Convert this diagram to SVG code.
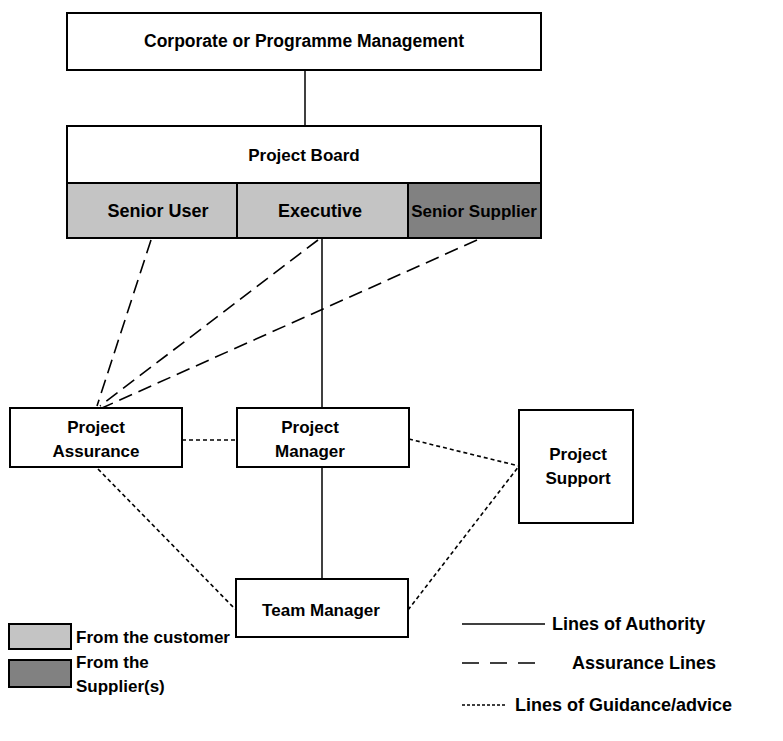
<svg xmlns="http://www.w3.org/2000/svg" width="783" height="741" viewBox="0 0 783 741">
<style>
  .box{fill:#fff;stroke:#000;stroke-width:2}
  .cust{fill:#c4c4c4;stroke:#000;stroke-width:2}
  .supp{fill:#818181;stroke:#000;stroke-width:2}
  .t{font-family:"Liberation Sans",Arial,sans-serif;font-weight:bold;font-size:17px;fill:#000;text-anchor:middle}
  .c{font-size:18px}
  .l{font-family:"Liberation Sans",Arial,sans-serif;font-weight:bold;font-size:17px;fill:#000}
  .r{font-size:18px}
  .auth{stroke:#000;stroke-width:1.5;fill:none}
  .assur{stroke:#000;stroke-width:1.6;fill:none;stroke-dasharray:14 7}
  .guide{stroke:#000;stroke-width:1.6;fill:none;stroke-dasharray:4 3}
</style>
<rect width="783" height="741" fill="#fff"/>
<g id="connectors">
  <line class="auth" x1="305" y1="70" x2="305" y2="126"/>
  <line class="auth" x1="322" y1="238" x2="322" y2="408"/>
  <line class="auth" x1="322" y1="467" x2="322" y2="579"/>
  <line class="assur" x1="151" y1="240" x2="97" y2="406"/>
  <line class="assur" x1="318" y1="240" x2="100" y2="406"/>
  <line class="assur" x1="477" y1="240" x2="102" y2="408"/>
  <line class="guide" x1="182" y1="440" x2="237" y2="440"/>
  <line class="guide" x1="409" y1="439" x2="519" y2="466"/>
  <line class="guide" x1="98" y1="469" x2="236" y2="610"/>
  <line class="guide" x1="408" y1="610" x2="519" y2="466"/>
</g>
<g id="corporate">
  <rect class="box" x="67" y="13" width="474" height="57"/>
  <text class="t" x="304" y="47" style="font-size:17.5px">Corporate or Programme Management</text>
</g>
<g id="project-board">
  <rect class="box" x="67" y="126" width="474" height="57"/>
  <text class="t" x="304" y="161">Project Board</text>
</g>
<g id="senior-user">
  <rect class="cust" x="67" y="183" width="170" height="55"/>
  <text class="t c" x="158" y="217">Senior User</text>
</g>
<g id="executive">
  <rect class="cust" x="237" y="183" width="171" height="55"/>
  <text class="t c" x="320" y="217">Executive</text>
</g>
<g id="senior-supplier">
  <rect class="supp" x="408" y="183" width="133" height="55"/>
  <text class="t" x="474" y="217">Senior Supplier</text>
</g>
<g id="project-assurance">
  <rect class="box" x="10" y="408" width="172" height="59"/>
  <text class="t" x="96" y="433">Project</text>
  <text class="t" x="96" y="457">Assurance</text>
</g>
<g id="project-manager">
  <rect class="box" x="237" y="408" width="172" height="59"/>
  <text class="t" x="310" y="433">Project</text>
  <text class="t" x="310" y="457">Manager</text>
</g>
<g id="project-support">
  <rect class="box" x="519" y="410" width="114" height="113"/>
  <text class="t" x="578" y="460">Project</text>
  <text class="t" x="578" y="484">Support</text>
</g>
<g id="team-manager">
  <rect class="box" x="236" y="579" width="172" height="58"/>
  <text class="t" x="321" y="616">Team Manager</text>
</g>
<g id="legend">
  <rect class="cust" x="9" y="624" width="62" height="25"/>
  <text class="l" x="76" y="643">From the customer</text>
  <rect class="supp" x="9" y="660" width="62" height="27"/>
  <text class="l" x="76" y="668">From the</text>
  <text class="l" x="76" y="692">Supplier(s)</text>
  <line class="auth" x1="462" y1="624" x2="545" y2="624"/>
  <text class="l r" x="552" y="630">Lines of Authority</text>
  <line class="assur" x1="462" y1="663" x2="540" y2="663" style="stroke-dasharray:17 11"/>
  <text class="l r" x="572" y="669">Assurance Lines</text>
  <line class="guide" x1="462" y1="705" x2="507" y2="705" style="stroke-dasharray:3 2"/>
  <text class="l r" x="515" y="711">Lines of Guidance/advice</text>
</g>
</svg>
